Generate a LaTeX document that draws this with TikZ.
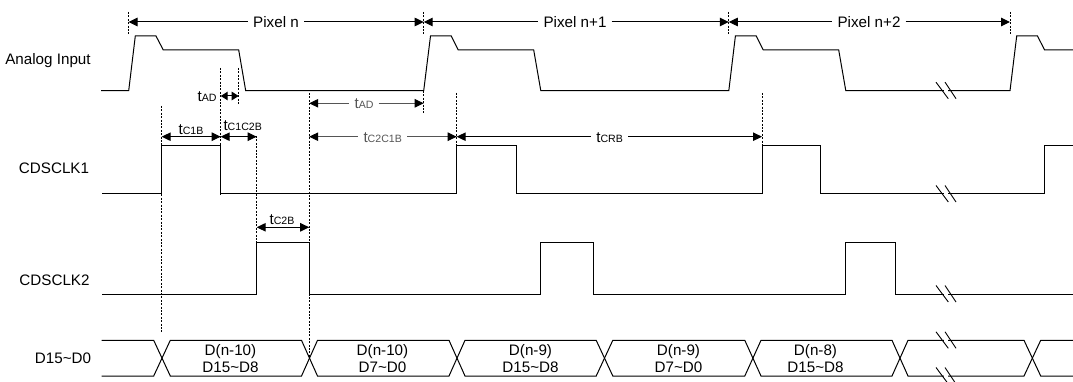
\documentclass[tikz,border=0pt]{standalone}
\usepackage{fontspec}
\setmainfont{Liberation Sans}
\usetikzlibrary{arrows.meta}
\definecolor{dimgray}{HTML}{555555}
\newcommand{\tsub}[1]{t{\fontsize{10.6}{11}\selectfont #1}}
\tikzset{
  headtip/.tip={Triangle[length=9pt,width=8.5pt]},
  shorttip/.tip={Triangle[length=7pt,width=8.5pt]},
  sig/.style={line width=1pt,black,line join=miter},
  guide/.style={line width=0.9pt,black,dash pattern=on 2pt off 1.4pt},
  dim/.style={line width=1pt,black,headtip-headtip},
  dimshort/.style={line width=1pt,black,shorttip-shorttip},
  dimL/.style={line width=1pt,black,headtip-},
  dimR/.style={line width=1pt,black,-headtip},
  graydimL/.style={line width=1pt,dimgray,{Triangle[length=9pt,width=8.5pt,black]}-},
  graydimR/.style={line width=1pt,dimgray,-{Triangle[length=9pt,width=8.5pt,black]}},
  lab/.style={font=\fontsize{15.2}{16}\selectfont,inner sep=0pt,text height=10.9pt,text depth=0pt},
  span/.style={font=\fontsize{15.2}{16}\selectfont,inner sep=5pt,text height=10.9pt,text depth=0pt},
  tlab/.style={font=\fontsize{15.2}{16}\selectfont,inner sep=0pt,text height=10.9pt,text depth=0pt},
  glab/.style={font=\fontsize{15.2}{16}\selectfont,inner sep=5pt,text=dimgray,text height=10.9pt,text depth=0pt},
  cell/.style={font=\fontsize{15.2}{16}\selectfont,inner sep=0pt,align=center},
  brk/.style={line width=0.9pt,black}
}
\newcommand{\breakmark}[1]{%
  \fill[white] ([xshift=-2pt,yshift=-2pt]#1) rectangle ([xshift=2pt,yshift=2pt]#1);
  \draw[brk] ([shift={(-10pt,8.5pt)}]#1) -- ([shift={(2.3pt,-8pt)}]#1);
  \draw[brk] ([shift={(-1pt,8.5pt)}]#1) -- ([shift={(10pt,-8pt)}]#1);
}
\begin{document}
\begin{tikzpicture}[x=1pt,y=-1pt]
\useasboundingbox (0,0) rectangle (1073,382);

% dashed guides
\draw[guide] (128.5,12) -- (128.5,34);
\draw[guide] (423.7,12) -- (423.7,34);
\draw[guide] (728.8,12) -- (728.8,34);
\draw[guide] (1010,12) -- (1010,34);
\draw[guide] (220.7,68) -- (220.7,194);
\draw[guide] (238.7,68) -- (238.7,104);
\draw[guide] (423.7,91) -- (423.7,113);
\draw[guide] (309.2,93) -- (309.2,358);
\draw[guide] (456.7,93) -- (456.7,145);
\draw[guide] (762,93) -- (762,145);
\draw[guide] (161.7,106) -- (161.7,332);
\draw[guide] (256.7,136) -- (256.7,243);

% row labels
\node[lab] (l1) at (48,59) {Analog Input};
\node[lab] (l2) at (54,168.5) {CDSCLK1};
\node[lab] (l3) at (54.5,280.5) {CDSCLK2};
\node[lab] (l4) at (63,358.5) {D15\textasciitilde D0};

% analog
\draw[sig] (101,90.7) -- (128.7,90.7) -- (135.3,36) -- (156,36) -- (163.3,50) -- (238.7,50) -- (245.7,90.7)
 -- (423.7,90.7) -- (430.5,36) -- (451.2,36) -- (458.3,50) -- (533.7,50) -- (540.8,90.7)
 -- (728.8,90.7) -- (735.4,36) -- (756.2,36) -- (763.3,50) -- (838.7,50) -- (845.8,90.7)
 -- (1010,90.7) -- (1016.7,36) -- (1037.5,36) -- (1044.6,50) -- (1073,50);
\coordinate (b1) at (946,90.7); \breakmark{b1}

% CDSCLK1
\draw[sig] (102.3,194) -- (161.7,194) -- (161.7,145.3) -- (220.7,145.3) -- (220.7,194)
 -- (456.7,194) -- (456.7,145.3) -- (516.2,145.3) -- (516.2,194)
 -- (762,194) -- (762,145.3) -- (820.8,145.3) -- (820.8,194)
 -- (1044.6,194) -- (1044.6,145.3) -- (1073,145.3);
\coordinate (b2) at (946,194); \breakmark{b2}

% CDSCLK2
\draw[sig] (102.3,294) -- (256.7,294) -- (256.7,242.7) -- (309.2,242.7) -- (309.2,294)
 -- (540.5,294) -- (540.5,242.7) -- (593,242.7) -- (593,294)
 -- (845.3,294) -- (845.3,242.7) -- (895.4,242.7) -- (895.4,294) -- (1073,294);
\coordinate (b3) at (946,294); \breakmark{b3}

% data bus
\draw[sig] (101.7,340.3) -- (153.7,340.3) -- (170.3,376) -- (301.5,376) -- (317.5,340.3) -- (449,340.3) -- (465,376)
 -- (596.2,376) -- (612.8,340.3) -- (744.8,340.3) -- (761,376) -- (892,376) -- (908,340.3) -- (1024,340.3)
 -- (1040.7,376) -- (1073,376);
\draw[sig] (101.7,376) -- (153.7,376) -- (170.3,340.3) -- (301.5,340.3) -- (317.5,376) -- (449,376) -- (465,340.3)
 -- (596.2,340.3) -- (612.8,376) -- (744.8,376) -- (761,340.3) -- (892,340.3) -- (908,376) -- (1024,376)
 -- (1040.7,340.3) -- (1073,340.3);
\coordinate (b4) at (946,340.3); \breakmark{b4}
\coordinate (b5) at (946,376); \breakmark{b5}

\node[cell] (d1) at (230.5,358.5) {D(n-10)\\[1.7pt]D15\textasciitilde D8};
\node[cell] (d2) at (382.5,358.5) {D(n-10)\\[1.7pt]D7\textasciitilde D0};
\node[cell] (d3) at (530.5,358.5) {D(n-9)\\[1.7pt]D15\textasciitilde D8};
\node[cell] (d4) at (678.5,358.5) {D(n-9)\\[1.7pt]D7\textasciitilde D0};
\node[cell] (d5) at (815.5,358.5) {D(n-8)\\[1.7pt]D15\textasciitilde D8};

% pixel spans
\node[span] (p0) at (276,22) {Pixel n};
\node[span] (p1) at (575,22) {Pixel n+1};
\node[span] (p2) at (869,22) {Pixel n+2};
\coordinate (p0l) at (128.5,22); \coordinate (p0r) at (423.7,22);
\coordinate (p1l) at (423.7,22); \coordinate (p1r) at (728.8,22);
\coordinate (p2l) at (728.8,22); \coordinate (p2r) at (1010,22);
\draw[dimL] (p0l) -- (p0.west); \draw[dimR] (p0.east) -- (p0r);
\draw[dimL] (p1l) -- (p1.west); \draw[dimR] (p1.east) -- (p1r);
\draw[dimL] (p2l) -- (p2.west); \draw[dimR] (p2.east) -- (p2r);

% timing labels
\coordinate (ad1l) at (220.7,96); \coordinate (ad1r) at (238.7,96);
\draw[dimshort] (ad1l) -- (ad1r);
\node[tlab] (t1) at (207,96) {\tsub{AD}};

\coordinate (ad2l) at (309.2,103.3); \coordinate (ad2r) at (423.7,103.3);
\node[glab] (t2) at (364,103.3) {\tsub{AD}};
\draw[graydimL] (ad2l) -- (t2.west); \draw[graydimR] (t2.east) -- (ad2r);

\coordinate (c1l) at (161.7,136.7); \coordinate (c1r) at (220.7,136.7);
\draw[dim] (c1l) -- (c1r);
\node[tlab] (t3) at (191,129) {\tsub{C1B}};

\coordinate (c12l) at (220.7,136.7); \coordinate (c12r) at (256.7,136.7);
\draw[dim] (c12l) -- (c12r);
\node[tlab] (t4) at (242.7,125) {\tsub{C1C2B}};

\coordinate (c21l) at (309.2,136.7); \coordinate (c21r) at (456.7,136.7);
\node[glab] (t5) at (382.7,136.7) {\tsub{C2C1B}};
\draw[graydimL] (c21l) -- (t5.west); \draw[graydimR] (t5.east) -- (c21r);

\coordinate (crl) at (456.7,136.7); \coordinate (crr) at (762,136.7);
\node[span] (t6) at (609.6,136.7) {\tsub{CRB}};
\draw[dimL] (crl) -- (t6.west); \draw[dimR] (t6.east) -- (crr);

\coordinate (c2l) at (256.7,227.3); \coordinate (c2r) at (309.2,227.3);
\draw[dim] (c2l) -- (c2r);
\node[tlab] (t7) at (282,219) {\tsub{C2B}};
\end{tikzpicture}
\end{document}
